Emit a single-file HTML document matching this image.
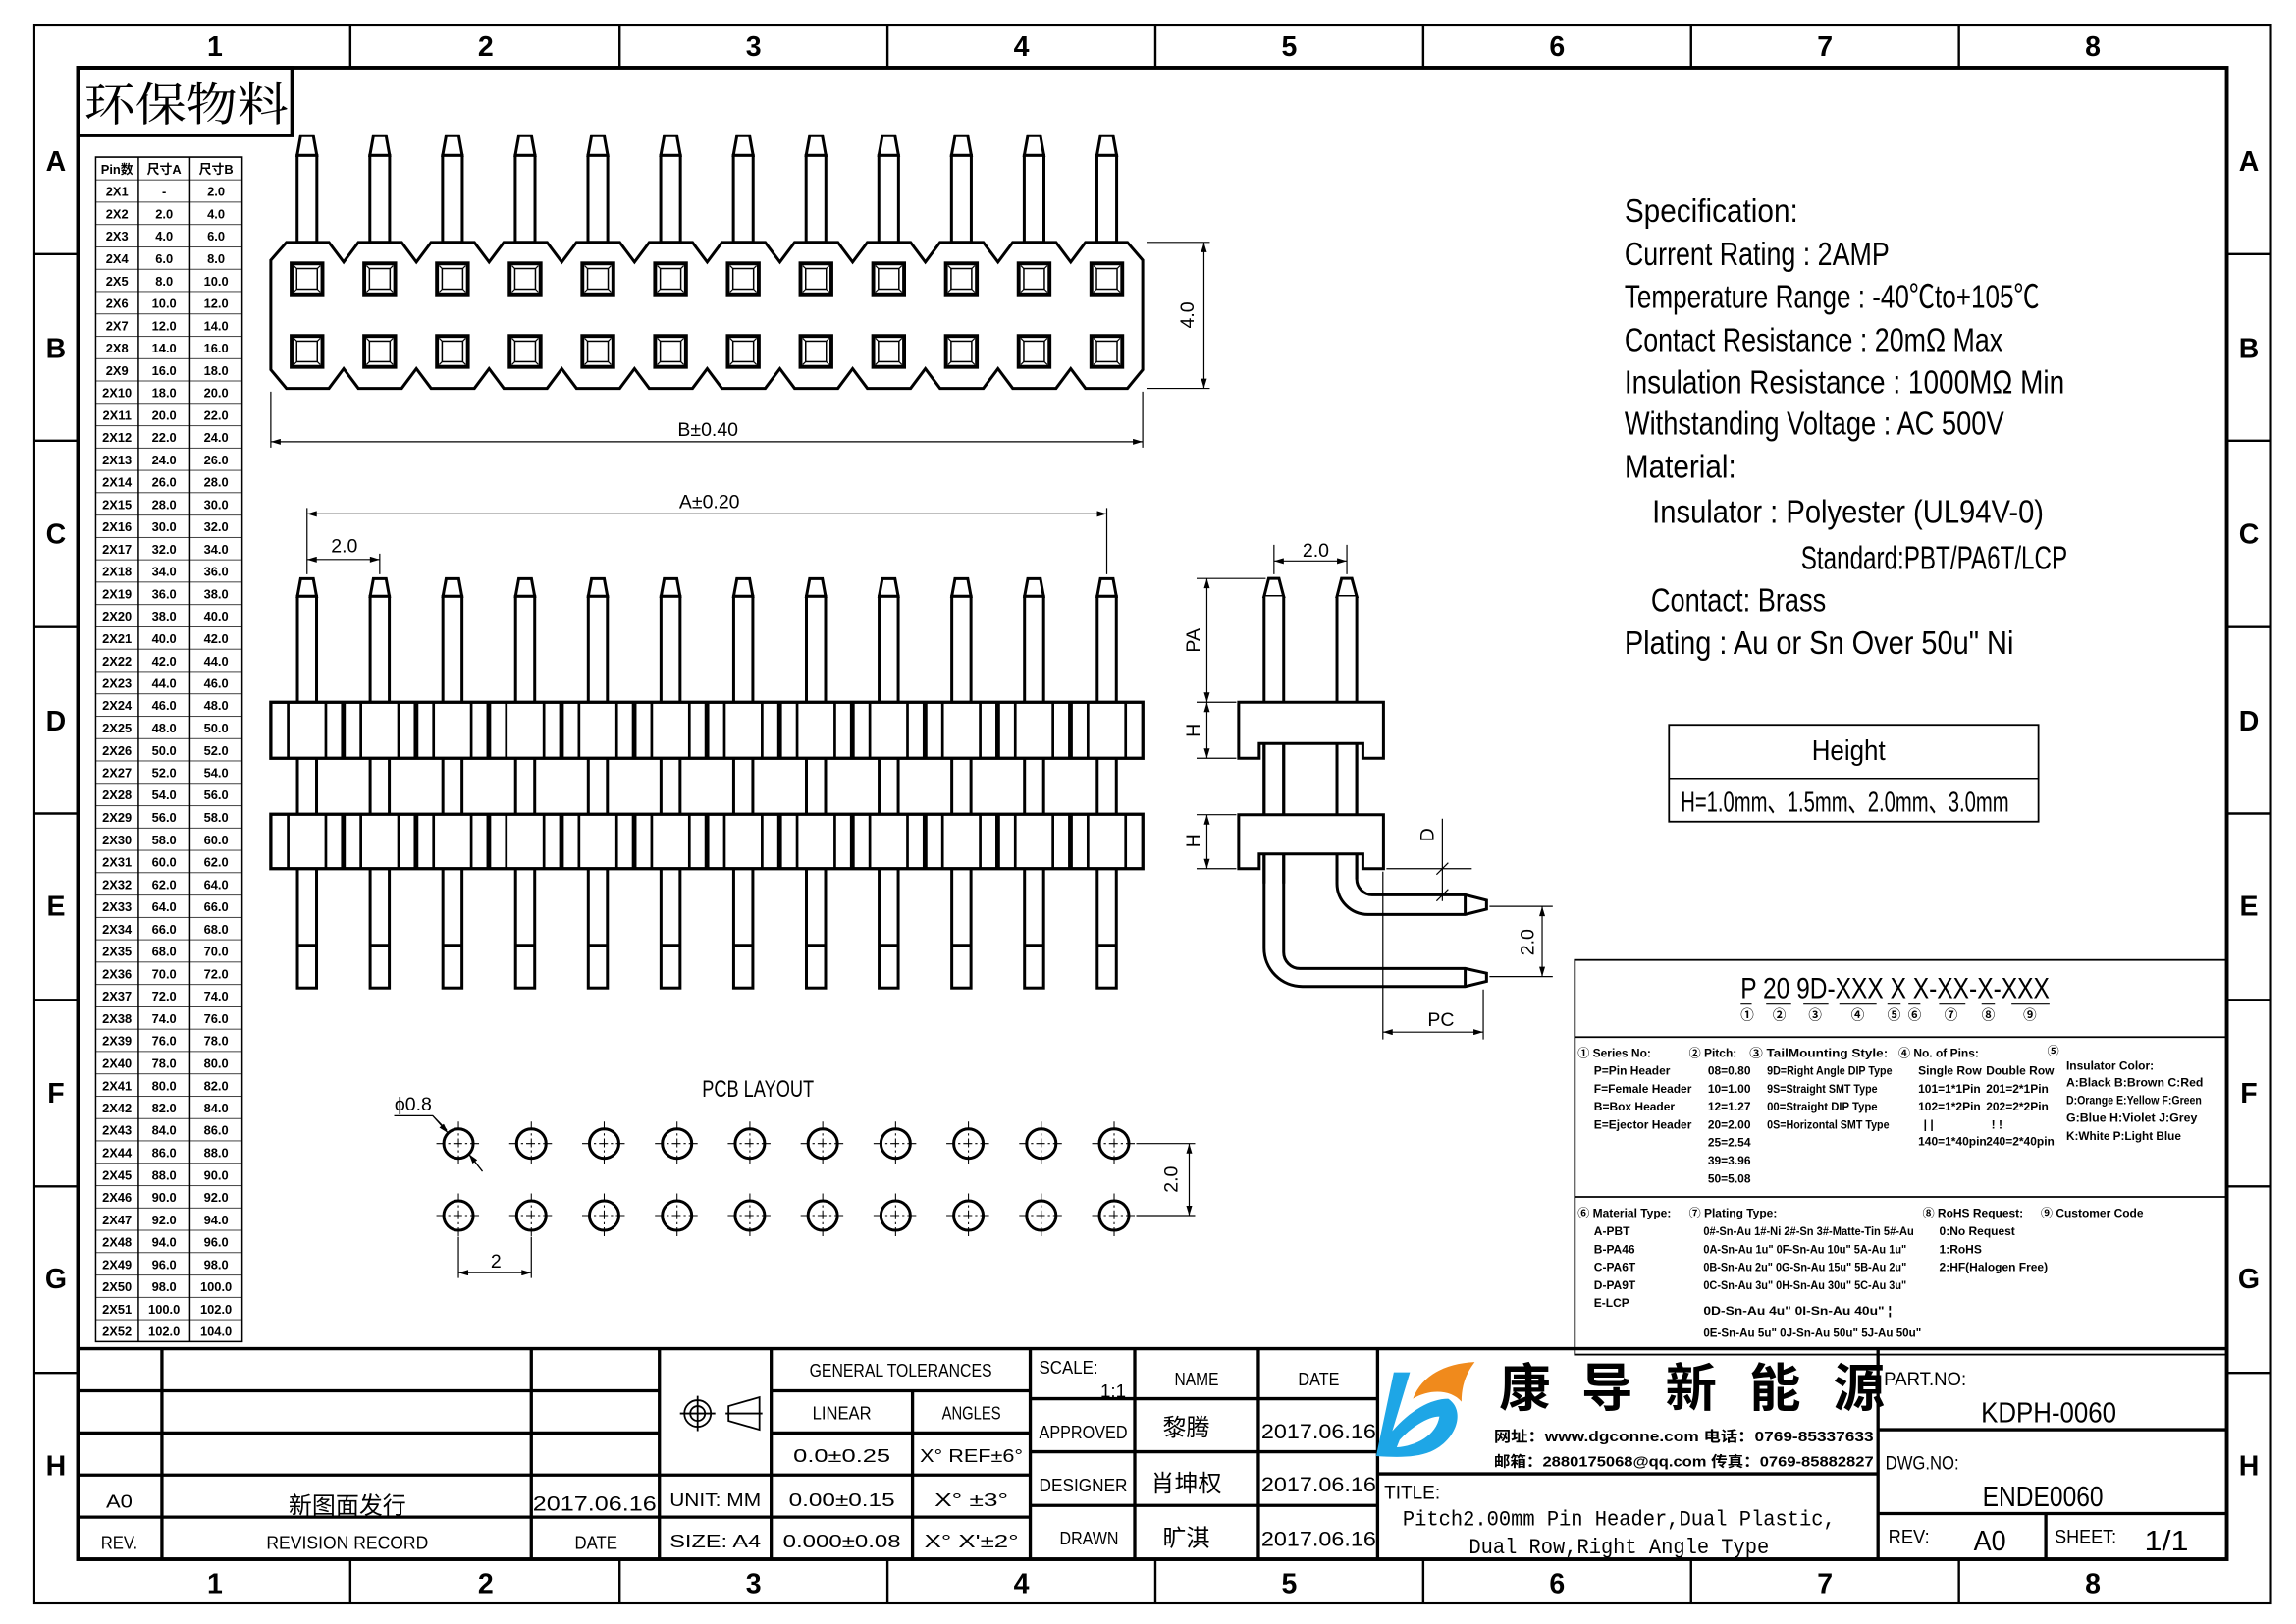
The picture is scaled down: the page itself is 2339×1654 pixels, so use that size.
<!DOCTYPE html>
<html><head><meta charset="utf-8"><style>
html,body{margin:0;padding:0;background:#fff}
svg{display:block}
text{font-family:"Liberation Sans Narrow","Liberation Sans","Noto Sans CJK SC",sans-serif;fill:#000}
.cj{font-family:"Liberation Serif","Noto Serif CJK SC",serif}
.b{font-weight:bold}
.hd{font-family:"Liberation Sans",sans-serif;font-weight:bold;font-size:19px}
.tb{font-size:8.6px;font-weight:bold;text-anchor:middle}
.sp{font-size:22px}
.sm{font-size:8px;font-weight:bold}
.t{font-size:12.5px;text-anchor:middle}
</style></head><body>
<svg width="2339" height="1654" viewBox="0 0 1560 1103" preserveAspectRatio="none" xmlns="http://www.w3.org/2000/svg">
<defs>
<marker id="ar" viewBox="0 0 10 6" refX="10" refY="3" markerWidth="7" markerHeight="4" orient="auto-start-reverse" markerUnits="userSpaceOnUse"><path d="M0,0 L10,3 L0,6 Z" fill="#000"/></marker>
<pattern id="rows" x="0" y="106.7" width="200" height="15.18" patternUnits="userSpaceOnUse"><line x1="0" y1="0" x2="200" y2="0" stroke="#000" stroke-width="1"/></pattern>
<g id="tp" fill="#fff" stroke="#000">
<path d="M-4.3,92.2 L4.3,92.2 L6.7,105.6 L-6.7,105.6 Z" stroke-width="2"/>
<rect x="-6.7" y="105.6" width="13.4" height="59" stroke-width="2"/>
</g>
<g id="sq" fill="none" stroke="#000">
<rect x="-10.5" y="178.9" width="21" height="21" stroke-width="2.6"/>
<rect x="-7" y="182.4" width="14" height="14" stroke-width="1"/>
<path d="M-9,180.4 L-7,182.4 M9,180.4 L7,182.4 M-9,198.4 L-7,196.4 M9,198.4 L7,196.4" stroke-width="0.8"/>
<rect x="-10.5" y="228.2" width="21" height="21" stroke-width="2.6"/>
<rect x="-7" y="231.7" width="14" height="14" stroke-width="1"/>
<path d="M-9,229.7 L-7,231.7 M9,229.7 L7,231.7 M-9,247.7 L-7,245.7 M9,247.7 L7,245.7" stroke-width="0.8"/>
</g>
<g id="fp" fill="#fff" stroke="#000" stroke-width="2">
<path d="M-4.3,393 L4.3,393 L6.5,405 L-6.5,405 Z"/>
<rect x="-6.5" y="405" width="13" height="266"/>
<line x1="-6.5" y1="642" x2="6.5" y2="642"/>
</g>
<g id="fl" stroke="#000">
<path d="M-12.8,477 V515 M12.8,477 V515 M-12.8,553 V590 M12.8,553 V590" stroke-width="1.8"/>
</g>
<g id="ft" stroke="#000"><path d="M24.7,477 V515 M24.7,553 V590" stroke-width="3.2"/></g>
<g id="hole" fill="none" stroke="#000">
<circle cx="0" cy="0" r="10" stroke-width="2"/>
<path d="M-15,0 H15 M0,-15 V15" stroke-width="0.7" stroke-dasharray="6,2,1.5,2"/>
</g>
</defs>
<rect width="1560" height="1103" fill="#fff"/>

<!-- frame -->
<rect x="23.3" y="16.7" width="1519.7" height="1072.3" fill="none" stroke="#000" stroke-width="1.4"/>
<rect x="53" y="46" width="1460" height="1013" fill="none" stroke="#000" stroke-width="2.6"/>
<g stroke="#000" stroke-width="1.6">
<path d="M238,16.7V46 M421,16.7V46 M603,16.7V46 M785,16.7V46 M967,16.7V46 M1149,16.7V46 M1331,16.7V46"/>
<path d="M238,1059V1089 M421,1059V1089 M603,1059V1089 M785,1059V1089 M967,1059V1089 M1149,1059V1089 M1331,1059V1089"/>
<path d="M23.3,172.6H53 M23.3,299.3H53 M23.3,425.9H53 M23.3,552.5H53 M23.3,679.1H53 M23.3,805.8H53 M23.3,932.4H53"/>
<path d="M1513,172.6H1543 M1513,299.3H1543 M1513,425.9H1543 M1513,552.5H1543 M1513,679.1H1543 M1513,805.8H1543 M1513,932.4H1543"/>
</g>
<g class="hd" text-anchor="middle">
<text x="146" y="38">1</text><text x="330" y="38">2</text><text x="512" y="38">3</text><text x="694" y="38">4</text><text x="876" y="38">5</text><text x="1058" y="38">6</text><text x="1240" y="38">7</text><text x="1422" y="38">8</text>
<text x="146" y="1082">1</text><text x="330" y="1082">2</text><text x="512" y="1082">3</text><text x="694" y="1082">4</text><text x="876" y="1082">5</text><text x="1058" y="1082">6</text><text x="1240" y="1082">7</text><text x="1422" y="1082">8</text>
<text x="38" y="116">A</text><text x="38" y="243">B</text><text x="38" y="369">C</text><text x="38" y="496">D</text><text x="38" y="622">E</text><text x="38" y="749">F</text><text x="38" y="875">G</text><text x="38" y="1002">H</text>
<text x="1528" y="116">A</text><text x="1528" y="243">B</text><text x="1528" y="369">C</text><text x="1528" y="496">D</text><text x="1528" y="622">E</text><text x="1528" y="749">F</text><text x="1528" y="875">G</text><text x="1528" y="1002">H</text>
</g>

<!-- 环保物料 -->
<rect x="53" y="46" width="145.5" height="46" fill="none" stroke="#000" stroke-width="2.6"/>
<text x="57" y="82" class="cj" font-size="31" textLength="139" lengthAdjust="spacingAndGlyphs">环保物料</text>

<!-- table -->
<rect x="65" y="106.7" width="99.5" height="804.5" fill="url(#rows)"/>
<rect x="65" y="106.7" width="99.5" height="804.5" fill="none" stroke="#000" stroke-width="1"/>
<path d="M94,106.7V911.2 M129,106.7V911.2" stroke="#000" stroke-width="1"/>
<text class="tb" x="79.5" y="118" font-size="8">Pin数</text><text class="tb" x="111.5" y="118" font-size="8">尺寸A</text><text class="tb" x="146.8" y="118" font-size="8">尺寸B</text>
<text class="tb">
<tspan x="79.5" y="133.2">2X1</tspan><tspan x="79.5" y="148.4">2X2</tspan><tspan x="79.5" y="163.5">2X3</tspan><tspan x="79.5" y="178.7">2X4</tspan><tspan x="79.5" y="193.9">2X5</tspan><tspan x="79.5" y="209.1">2X6</tspan><tspan x="79.5" y="224.3">2X7</tspan><tspan x="79.5" y="239.4">2X8</tspan><tspan x="79.5" y="254.6">2X9</tspan><tspan x="79.5" y="269.8">2X10</tspan><tspan x="79.5" y="285">2X11</tspan><tspan x="79.5" y="300.2">2X12</tspan><tspan x="79.5" y="315.3">2X13</tspan><tspan x="79.5" y="330.5">2X14</tspan><tspan x="79.5" y="345.7">2X15</tspan><tspan x="79.5" y="360.9">2X16</tspan><tspan x="79.5" y="376.1">2X17</tspan><tspan x="79.5" y="391.2">2X18</tspan><tspan x="79.5" y="406.4">2X19</tspan><tspan x="79.5" y="421.6">2X20</tspan><tspan x="79.5" y="436.8">2X21</tspan><tspan x="79.5" y="452">2X22</tspan><tspan x="79.5" y="467.1">2X23</tspan><tspan x="79.5" y="482.3">2X24</tspan><tspan x="79.5" y="497.5">2X25</tspan><tspan x="79.5" y="512.7">2X26</tspan><tspan x="79.5" y="527.9">2X27</tspan><tspan x="79.5" y="543">2X28</tspan><tspan x="79.5" y="558.2">2X29</tspan><tspan x="79.5" y="573.4">2X30</tspan><tspan x="79.5" y="588.6">2X31</tspan><tspan x="79.5" y="603.8">2X32</tspan><tspan x="79.5" y="618.9">2X33</tspan><tspan x="79.5" y="634.1">2X34</tspan><tspan x="79.5" y="649.3">2X35</tspan><tspan x="79.5" y="664.5">2X36</tspan><tspan x="79.5" y="679.7">2X37</tspan><tspan x="79.5" y="694.8">2X38</tspan><tspan x="79.5" y="710">2X39</tspan><tspan x="79.5" y="725.2">2X40</tspan><tspan x="79.5" y="740.4">2X41</tspan><tspan x="79.5" y="755.6">2X42</tspan><tspan x="79.5" y="770.7">2X43</tspan><tspan x="79.5" y="785.9">2X44</tspan><tspan x="79.5" y="801.1">2X45</tspan><tspan x="79.5" y="816.3">2X46</tspan><tspan x="79.5" y="831.5">2X47</tspan><tspan x="79.5" y="846.6">2X48</tspan><tspan x="79.5" y="861.8">2X49</tspan><tspan x="79.5" y="877">2X50</tspan><tspan x="79.5" y="892.2">2X51</tspan><tspan x="79.5" y="907.4">2X52</tspan>
</text>
<text class="tb">
<tspan x="111.5" y="133.2">-</tspan><tspan x="111.5" y="148.4">2.0</tspan><tspan x="111.5" y="163.5">4.0</tspan><tspan x="111.5" y="178.7">6.0</tspan><tspan x="111.5" y="193.9">8.0</tspan><tspan x="111.5" y="209.1">10.0</tspan><tspan x="111.5" y="224.3">12.0</tspan><tspan x="111.5" y="239.4">14.0</tspan><tspan x="111.5" y="254.6">16.0</tspan><tspan x="111.5" y="269.8">18.0</tspan><tspan x="111.5" y="285">20.0</tspan><tspan x="111.5" y="300.2">22.0</tspan><tspan x="111.5" y="315.3">24.0</tspan><tspan x="111.5" y="330.5">26.0</tspan><tspan x="111.5" y="345.7">28.0</tspan><tspan x="111.5" y="360.9">30.0</tspan><tspan x="111.5" y="376.1">32.0</tspan><tspan x="111.5" y="391.2">34.0</tspan><tspan x="111.5" y="406.4">36.0</tspan><tspan x="111.5" y="421.6">38.0</tspan><tspan x="111.5" y="436.8">40.0</tspan><tspan x="111.5" y="452">42.0</tspan><tspan x="111.5" y="467.1">44.0</tspan><tspan x="111.5" y="482.3">46.0</tspan><tspan x="111.5" y="497.5">48.0</tspan><tspan x="111.5" y="512.7">50.0</tspan><tspan x="111.5" y="527.9">52.0</tspan><tspan x="111.5" y="543">54.0</tspan><tspan x="111.5" y="558.2">56.0</tspan><tspan x="111.5" y="573.4">58.0</tspan><tspan x="111.5" y="588.6">60.0</tspan><tspan x="111.5" y="603.8">62.0</tspan><tspan x="111.5" y="618.9">64.0</tspan><tspan x="111.5" y="634.1">66.0</tspan><tspan x="111.5" y="649.3">68.0</tspan><tspan x="111.5" y="664.5">70.0</tspan><tspan x="111.5" y="679.7">72.0</tspan><tspan x="111.5" y="694.8">74.0</tspan><tspan x="111.5" y="710">76.0</tspan><tspan x="111.5" y="725.2">78.0</tspan><tspan x="111.5" y="740.4">80.0</tspan><tspan x="111.5" y="755.6">82.0</tspan><tspan x="111.5" y="770.7">84.0</tspan><tspan x="111.5" y="785.9">86.0</tspan><tspan x="111.5" y="801.1">88.0</tspan><tspan x="111.5" y="816.3">90.0</tspan><tspan x="111.5" y="831.5">92.0</tspan><tspan x="111.5" y="846.6">94.0</tspan><tspan x="111.5" y="861.8">96.0</tspan><tspan x="111.5" y="877">98.0</tspan><tspan x="111.5" y="892.2">100.0</tspan><tspan x="111.5" y="907.4">102.0</tspan>
</text>
<text class="tb">
<tspan x="146.8" y="133.2">2.0</tspan><tspan x="146.8" y="148.4">4.0</tspan><tspan x="146.8" y="163.5">6.0</tspan><tspan x="146.8" y="178.7">8.0</tspan><tspan x="146.8" y="193.9">10.0</tspan><tspan x="146.8" y="209.1">12.0</tspan><tspan x="146.8" y="224.3">14.0</tspan><tspan x="146.8" y="239.4">16.0</tspan><tspan x="146.8" y="254.6">18.0</tspan><tspan x="146.8" y="269.8">20.0</tspan><tspan x="146.8" y="285">22.0</tspan><tspan x="146.8" y="300.2">24.0</tspan><tspan x="146.8" y="315.3">26.0</tspan><tspan x="146.8" y="330.5">28.0</tspan><tspan x="146.8" y="345.7">30.0</tspan><tspan x="146.8" y="360.9">32.0</tspan><tspan x="146.8" y="376.1">34.0</tspan><tspan x="146.8" y="391.2">36.0</tspan><tspan x="146.8" y="406.4">38.0</tspan><tspan x="146.8" y="421.6">40.0</tspan><tspan x="146.8" y="436.8">42.0</tspan><tspan x="146.8" y="452">44.0</tspan><tspan x="146.8" y="467.1">46.0</tspan><tspan x="146.8" y="482.3">48.0</tspan><tspan x="146.8" y="497.5">50.0</tspan><tspan x="146.8" y="512.7">52.0</tspan><tspan x="146.8" y="527.9">54.0</tspan><tspan x="146.8" y="543">56.0</tspan><tspan x="146.8" y="558.2">58.0</tspan><tspan x="146.8" y="573.4">60.0</tspan><tspan x="146.8" y="588.6">62.0</tspan><tspan x="146.8" y="603.8">64.0</tspan><tspan x="146.8" y="618.9">66.0</tspan><tspan x="146.8" y="634.1">68.0</tspan><tspan x="146.8" y="649.3">70.0</tspan><tspan x="146.8" y="664.5">72.0</tspan><tspan x="146.8" y="679.7">74.0</tspan><tspan x="146.8" y="694.8">76.0</tspan><tspan x="146.8" y="710">78.0</tspan><tspan x="146.8" y="725.2">80.0</tspan><tspan x="146.8" y="740.4">82.0</tspan><tspan x="146.8" y="755.6">84.0</tspan><tspan x="146.8" y="770.7">86.0</tspan><tspan x="146.8" y="785.9">88.0</tspan><tspan x="146.8" y="801.1">90.0</tspan><tspan x="146.8" y="816.3">92.0</tspan><tspan x="146.8" y="831.5">94.0</tspan><tspan x="146.8" y="846.6">96.0</tspan><tspan x="146.8" y="861.8">98.0</tspan><tspan x="146.8" y="877">100.0</tspan><tspan x="146.8" y="892.2">102.0</tspan><tspan x="146.8" y="907.4">104.0</tspan>
</text>

<!-- top view -->
<use href="#tp" x="208.6"/><use href="#tp" x="258"/><use href="#tp" x="307.4"/><use href="#tp" x="356.8"/><use href="#tp" x="406.2"/><use href="#tp" x="455.6"/><use href="#tp" x="505"/><use href="#tp" x="554.4"/><use href="#tp" x="603.8"/><use href="#tp" x="653.2"/><use href="#tp" x="702.6"/><use href="#tp" x="752"/>
<path fill="#fff" stroke="#000" stroke-width="2" stroke-linejoin="miter" d="M184,176.7 L194.6,164.6 L223.5,164.6 L233.5,178 L243.5,164.6 L272.9,164.6 L282.9,178 L292.9,164.6 L322.3,164.6 L332.3,178 L342.3,164.6 L371.7,164.6 L381.7,178 L391.7,164.6 L421.1,164.6 L431.1,178 L441.1,164.6 L470.5,164.6 L480.5,178 L490.5,164.6 L519.9,164.6 L529.9,178 L539.9,164.6 L569.3,164.6 L579.3,178 L589.3,164.6 L618.7,164.6 L628.7,178 L638.7,164.6 L668.1,164.6 L678.1,178 L688.1,164.6 L717.5,164.6 L727.5,178 L737.5,164.6 L766,164.6 L776.4,176.7 L776.4,251.1 L766,263.8 L737.5,263.8 L727.5,250.4 L717.5,263.8 L688.1,263.8 L678.1,250.4 L668.1,263.8 L638.7,263.8 L628.7,250.4 L618.7,263.8 L589.3,263.8 L579.3,250.4 L569.3,263.8 L539.9,263.8 L529.9,250.4 L519.9,263.8 L490.5,263.8 L480.5,250.4 L470.5,263.8 L441.1,263.8 L431.1,250.4 L421.1,263.8 L391.7,263.8 L381.7,250.4 L371.7,263.8 L342.3,263.8 L332.3,250.4 L322.3,263.8 L292.9,263.8 L282.9,250.4 L272.9,263.8 L243.5,263.8 L233.5,250.4 L223.5,263.8 L194.6,263.8 L184,251.1 Z"/>
<use href="#sq" x="208.6"/><use href="#sq" x="258"/><use href="#sq" x="307.4"/><use href="#sq" x="356.8"/><use href="#sq" x="406.2"/><use href="#sq" x="455.6"/><use href="#sq" x="505"/><use href="#sq" x="554.4"/><use href="#sq" x="603.8"/><use href="#sq" x="653.2"/><use href="#sq" x="702.6"/><use href="#sq" x="752"/>
<g stroke="#000" stroke-width="0.8" fill="none">
<path d="M779,164.6H822 M779,263.8H822 M184,266V304 M776.4,266V304"/>
<line x1="818" y1="164.6" x2="818" y2="263.8" marker-start="url(#ar)" marker-end="url(#ar)"/>
<line x1="184" y1="300" x2="776.4" y2="300" marker-start="url(#ar)" marker-end="url(#ar)"/>
</g>
<text x="811" y="214" font-size="13" text-anchor="middle" transform="rotate(-90 811 214)">4.0</text>
<text x="481" y="296" font-size="13" text-anchor="middle">B±0.40</text>

<!-- front view -->
<g stroke="#000" stroke-width="0.8" fill="none">
<path d="M208.6,345V390 M752,345V390 M258,376V390"/>
<line x1="208.6" y1="349" x2="752" y2="349" marker-start="url(#ar)" marker-end="url(#ar)"/>
<line x1="208.6" y1="380" x2="258" y2="380" marker-start="url(#ar)" marker-end="url(#ar)"/>
</g>
<text x="482" y="345" font-size="13" text-anchor="middle">A±0.20</text>
<text x="234" y="375" font-size="13" text-anchor="middle">2.0</text>
<use href="#fp" x="208.6"/><use href="#fp" x="258"/><use href="#fp" x="307.4"/><use href="#fp" x="356.8"/><use href="#fp" x="406.2"/><use href="#fp" x="455.6"/><use href="#fp" x="505"/><use href="#fp" x="554.4"/><use href="#fp" x="603.8"/><use href="#fp" x="653.2"/><use href="#fp" x="702.6"/><use href="#fp" x="752"/>
<rect x="184" y="477" width="592.5" height="38" fill="#fff" stroke="#000" stroke-width="2.2"/>
<rect x="184" y="553" width="592.5" height="37" fill="#fff" stroke="#000" stroke-width="2.2"/>
<use href="#fl" x="208.6"/><use href="#fl" x="258"/><use href="#fl" x="307.4"/><use href="#fl" x="356.8"/><use href="#fl" x="406.2"/><use href="#fl" x="455.6"/><use href="#fl" x="505"/><use href="#fl" x="554.4"/><use href="#fl" x="603.8"/><use href="#fl" x="653.2"/><use href="#fl" x="702.6"/><use href="#fl" x="752"/>
<use href="#ft" x="208.6"/><use href="#ft" x="258"/><use href="#ft" x="307.4"/><use href="#ft" x="356.8"/><use href="#ft" x="406.2"/><use href="#ft" x="455.6"/><use href="#ft" x="505"/><use href="#ft" x="554.4"/><use href="#ft" x="603.8"/><use href="#ft" x="653.2"/><use href="#ft" x="702.6"/>

<!-- side view -->
<g fill="#fff" stroke="#000" stroke-width="2">
<path d="M862,392.9 L869,392.9 L872.2,405.1 L858.9,405.1 Z"/>
<path d="M911.5,392.9 L918.5,392.9 L921.8,405.1 L908.4,405.1 Z"/>
<path d="M858.9,405.1 L858.9,644 A26,26 0 0 0 884.9,670 L995.5,670 L1010,666.5 L1010,661 L995.5,657.8 L883.2,657.8 A11,11 0 0 1 872.2,646.8 L872.2,405.1"/>
<path d="M908.4,405.1 L908.4,600 A21,21 0 0 0 929.4,621.1 L995.5,621.1 L1010,617.5 L1010,611.5 L995.5,607.8 L932.6,607.8 A10.8,10.8 0 0 1 921.8,597 L921.8,405.1"/>
<path d="M995.5,657.8V670 M995.5,607.8V621.1" fill="none"/>
<path d="M841.6,477 L940,477 L940,515 L926,515 L926,505 L855.6,505 L855.6,515 L841.6,515 Z"/>
<path d="M841.6,553.3 L940,553.3 L940,590 L926,590 L926,580 L855.6,580 L855.6,590 L841.6,590 Z"/>
<path d="M858.9,505V553.3 M872.2,505V553.3 M908.4,505V553.3 M921.8,505V553.3 M858.9,580V600 M872.2,580V600 M908.4,580V598 M921.8,580V597" fill="none"/>
</g>
<g stroke="#000" stroke-width="0.8" fill="none">
<path d="M813,392.9H860 M813,477H840 M813,515H840 M813,553.3H840 M813,590H840"/>
<line x1="820" y1="392.9" x2="820" y2="477" marker-start="url(#ar)" marker-end="url(#ar)"/>
<line x1="820" y1="477" x2="820" y2="515" marker-start="url(#ar)" marker-end="url(#ar)"/>
<line x1="820" y1="553.3" x2="820" y2="590" marker-start="url(#ar)" marker-end="url(#ar)"/>
<path d="M865.6,370V390 M915.1,370V390"/>
<line x1="865.6" y1="381" x2="915.1" y2="381" marker-start="url(#ar)" marker-end="url(#ar)"/>
<path d="M942,590H1000 M980,556V612 M976,594L984,586 M976,612L984,604"/>
<path d="M1012,615.6H1055 M1012,663.3H1055 M939.6,592V706 M1007.8,672V706"/>
<line x1="1047.8" y1="615.6" x2="1047.8" y2="663.3" marker-start="url(#ar)" marker-end="url(#ar)"/>
<line x1="939.6" y1="701" x2="1007.8" y2="701" marker-start="url(#ar)" marker-end="url(#ar)"/>
</g>
<text x="815" y="435" font-size="13" text-anchor="middle" transform="rotate(-90 815 435)">PA</text>
<text x="815" y="496" font-size="13" text-anchor="middle" transform="rotate(-90 815 496)">H</text>
<text x="815" y="571" font-size="13" text-anchor="middle" transform="rotate(-90 815 571)">H</text>
<text x="894" y="378" font-size="13" text-anchor="middle">2.0</text>
<text x="974" y="567" font-size="13" text-anchor="middle" transform="rotate(-90 974 567)">D</text>
<text x="1042" y="640" font-size="13" text-anchor="middle" transform="rotate(-90 1042 640)">2.0</text>
<text x="979" y="697" font-size="13" text-anchor="middle">PC</text>

<!-- PCB layout -->
<text x="515" y="745" font-size="16" text-anchor="middle" textLength="76" lengthAdjust="spacingAndGlyphs">PCB LAYOUT</text>
<g>
<use href="#hole" x="311.5" y="776.7"/><use href="#hole" x="361" y="776.7"/><use href="#hole" x="410.5" y="776.7"/><use href="#hole" x="460" y="776.7"/><use href="#hole" x="509.5" y="776.7"/><use href="#hole" x="559" y="776.7"/><use href="#hole" x="608.5" y="776.7"/><use href="#hole" x="658" y="776.7"/><use href="#hole" x="707.5" y="776.7"/><use href="#hole" x="757" y="776.7"/>
<use href="#hole" x="311.5" y="825.6"/><use href="#hole" x="361" y="825.6"/><use href="#hole" x="410.5" y="825.6"/><use href="#hole" x="460" y="825.6"/><use href="#hole" x="509.5" y="825.6"/><use href="#hole" x="559" y="825.6"/><use href="#hole" x="608.5" y="825.6"/><use href="#hole" x="658" y="825.6"/><use href="#hole" x="707.5" y="825.6"/><use href="#hole" x="757" y="825.6"/>
</g>
<g stroke="#000" stroke-width="0.8" fill="none">
<path d="M267.8,757.8H294 L303.5,767.5 M318.5,783.8 L327.8,795.6"/>
<path d="M294,757.8 L304.4,769.6" marker-end="url(#ar)"/>
<path d="M327.8,795.6 L318.6,783.8" marker-end="url(#ar)"/>
<path d="M311.5,840V868 M361,840V868 M772,776.7H812 M772,825.6H812"/>
<line x1="311.5" y1="864.4" x2="361" y2="864.4" marker-start="url(#ar)" marker-end="url(#ar)"/>
<line x1="808" y1="776.7" x2="808" y2="825.6" marker-start="url(#ar)" marker-end="url(#ar)"/>
</g>
<text x="268" y="754.4" font-size="13">ϕ0.8</text>
<text x="337" y="861" font-size="13" text-anchor="middle">2</text>
<text x="800" y="801" font-size="13" text-anchor="middle" transform="rotate(-90 800 801)">2.0</text>

<!-- specification -->
<g class="sp">
<text x="1103.7" y="150.7" textLength="118" lengthAdjust="spacingAndGlyphs">Specification:</text>
<text x="1103.7" y="179.9" textLength="180" lengthAdjust="spacingAndGlyphs">Current Rating : 2AMP</text>
<text x="1103.7" y="209.1" textLength="282" lengthAdjust="spacingAndGlyphs">Temperature Range : -40℃to+105℃</text>
<text x="1103.7" y="238.3" textLength="257" lengthAdjust="spacingAndGlyphs">Contact Resistance : 20mΩ Max</text>
<text x="1103.7" y="267" textLength="299" lengthAdjust="spacingAndGlyphs">Insulation Resistance : 1000MΩ Min</text>
<text x="1103.7" y="295.2" textLength="258" lengthAdjust="spacingAndGlyphs">Withstanding Voltage : AC 500V</text>
<text x="1103.7" y="324.4" textLength="76" lengthAdjust="spacingAndGlyphs">Material:</text>
<text x="1122.6" y="355" textLength="266" lengthAdjust="spacingAndGlyphs">Insulator : Polyester (UL94V-0)</text>
<text x="1223.7" y="386.3" textLength="181" lengthAdjust="spacingAndGlyphs">Standard:PBT/PA6T/LCP</text>
<text x="1121.7" y="415" textLength="119" lengthAdjust="spacingAndGlyphs">Contact: Brass</text>
<text x="1103.7" y="444.1" textLength="264.5" lengthAdjust="spacingAndGlyphs">Plating : Au or Sn Over 50u" Ni</text>
</g>
<rect x="1134" y="492.3" width="251" height="65.7" fill="none" stroke="#000" stroke-width="1.2"/>
<line x1="1134" y1="528.7" x2="1385" y2="528.7" stroke="#000" stroke-width="1"/>
<text x="1256" y="516" font-size="19" text-anchor="middle" textLength="50" lengthAdjust="spacingAndGlyphs">Height</text>
<text x="1142" y="551.3" font-size="19" textLength="223" lengthAdjust="spacingAndGlyphs">H=1.0mm、1.5mm、2.0mm、3.0mm</text>

<!-- ordering code -->
<rect x="1070" y="652" width="443" height="268" fill="none" stroke="#000" stroke-width="1.2"/>
<path d="M1070,704.4H1513 M1070,812.9H1513" stroke="#000" stroke-width="1.2"/>
<text x="1182.7" y="677.8" font-size="20" textLength="209.8" lengthAdjust="spacingAndGlyphs" xml:space="preserve">P 20 9D-XXX X X-XX-X-XXX</text>
<path stroke="#000" stroke-width="0.8" d="M1182.7,682H1190.2 M1200,682H1217 M1225.3,682H1242.3 M1249.7,682H1275 M1282.4,682H1291.4 M1296.7,682H1304.8 M1317.5,682H1335.4 M1346.4,682H1355.4 M1366.7,682H1392.5"/>
<g font-size="9" text-anchor="middle" class="b">
<text x="1187.2" y="692.5">①</text><text x="1208.9" y="692.5">②</text><text x="1233.3" y="692.5">③</text><text x="1262.2" y="692.5">④</text><text x="1286.9" y="692.5">⑤</text><text x="1300.9" y="692.5">⑥</text><text x="1325.6" y="692.5">⑦</text><text x="1350.9" y="692.5">⑧</text><text x="1379.2" y="692.5">⑨</text>
</g>
<g class="sm">
<text x="1072" y="717.8">① Series No:</text>
<text x="1083" y="730">P=Pin Header</text><text x="1083" y="742.2">F=Female Header</text><text x="1083" y="754.4">B=Box Header</text><text x="1083" y="766.6">E=Ejector Header</text>
<text x="1147.6" y="717.8">② Pitch:</text>
<text x="1160.4" y="730">08=0.80</text><text x="1160.4" y="742.2">10=1.00</text><text x="1160.4" y="754.4">12=1.27</text><text x="1160.4" y="766.6">20=2.00</text><text x="1160.4" y="778.5">25=2.54</text><text x="1160.4" y="791">39=3.96</text><text x="1160.4" y="803.3">50=5.08</text>
<text x="1188.7" y="717.8" textLength="94" lengthAdjust="spacingAndGlyphs">③ TailMounting Style:</text>
<text x="1200.6" y="730" textLength="85" lengthAdjust="spacingAndGlyphs">9D=Right Angle DIP Type</text>
<text x="1200.6" y="742.2" textLength="75" lengthAdjust="spacingAndGlyphs">9S=Straight SMT Type</text>
<text x="1200.6" y="754.4" textLength="75" lengthAdjust="spacingAndGlyphs">00=Straight DIP Type</text>
<text x="1200.6" y="766.6" textLength="83" lengthAdjust="spacingAndGlyphs">0S=Horizontal SMT Type</text>
<text x="1289.9" y="717.8">④ No. of Pins:</text>
<text x="1303.3" y="730">Single Row</text><text x="1349.4" y="730">Double Row</text>
<text x="1303.3" y="742.2">101=1*1Pin</text><text x="1349.4" y="742.2">201=2*1Pin</text>
<text x="1303.3" y="754.4">102=1*2Pin</text><text x="1349.4" y="754.4">202=2*2Pin</text>
<text x="1307" y="766.6">|   |</text><text x="1353" y="766.6">!   !</text>
<text x="1303.3" y="778">140=1*40pin</text><text x="1349.4" y="778">240=2*40pin</text>
<text x="1391" y="716.5">⑤</text>
<text x="1403.9" y="726.7">Insulator Color:</text>
<text x="1403.9" y="737.8" textLength="93" lengthAdjust="spacingAndGlyphs">A:Black  B:Brown  C:Red</text>
<text x="1403.9" y="749.9" textLength="92" lengthAdjust="spacingAndGlyphs">D:Orange E:Yellow F:Green</text>
<text x="1403.9" y="762" textLength="89" lengthAdjust="spacingAndGlyphs">G:Blue   H:Violet J:Grey</text>
<text x="1403.9" y="774.2" textLength="78" lengthAdjust="spacingAndGlyphs">K:White  P:Light Blue</text>
<text x="1072" y="826.7">⑥ Material Type:</text>
<text x="1083" y="838.9">A-PBT</text><text x="1083" y="851.1">B-PA46</text><text x="1083" y="863.3">C-PA6T</text><text x="1083" y="875.5">D-PA9T</text><text x="1083" y="887.7">E-LCP</text>
<text x="1147.6" y="826.7">⑦ Plating Type:</text>
<text x="1157.4" y="838.9" textLength="143" lengthAdjust="spacingAndGlyphs">0#-Sn-Au 1#-Ni 2#-Sn 3#-Matte-Tin 5#-Au</text>
<text x="1157.4" y="851.1" textLength="138" lengthAdjust="spacingAndGlyphs">0A-Sn-Au 1u" 0F-Sn-Au 10u"  5A-Au 1u"</text>
<text x="1157.4" y="863.3" textLength="138" lengthAdjust="spacingAndGlyphs">0B-Sn-Au 2u" 0G-Sn-Au 15u"  5B-Au 2u"</text>
<text x="1157.4" y="875.5" textLength="138" lengthAdjust="spacingAndGlyphs">0C-Sn-Au 3u" 0H-Sn-Au 30u"  5C-Au 3u"</text>
<text x="1157.4" y="893" textLength="128" lengthAdjust="spacingAndGlyphs">0D-Sn-Au 4u" 0I-Sn-Au 40u"       ¦</text>
<text x="1157.4" y="908" textLength="148" lengthAdjust="spacingAndGlyphs">0E-Sn-Au 5u" 0J-Sn-Au 50u"  5J-Au 50u"</text>
<text x="1306.3" y="826.7">⑧ RoHS Request:</text>
<text x="1317.6" y="838.9">0:No Request</text><text x="1317.6" y="851.1">1:RoHS</text><text x="1317.6" y="863.3">2:HF(Halogen Free)</text>
<text x="1386.6" y="826.7">⑨ Customer Code</text>
</g>

<!-- title block -->
<g stroke="#000" stroke-width="2.2" fill="none">
<path d="M53,916H1513"/>
<path d="M53,944.6H448 M53,973.2H448 M53,1001.8H524 M53,1030.4H700 M524,944.6H700 M524,973.2H700 M524,1001.8H700"/>
<path d="M110,916V1059 M361,916V1059 M448,916V1059 M524,916V1059 M620,944.6V1059 M700,916V1059"/>
<path d="M771,916V1059 M855,916V1059 M936,916V1059 M700,950H936 M700,986H936 M700,1022.5H936"/>
<path d="M936,1001H1276 M1276,916V1059 M1276,971H1513 M1276,1028H1513 M1390,1028V1059"/>
</g>
<g stroke="#000" stroke-width="1.2" fill="none">
<circle cx="474" cy="960" r="9"/><circle cx="474" cy="960" r="5"/>
<path d="M462,960H486 M474,948V972 M493,960H518 M495,955 L516,949 L516,971 L495,965 Z"/>
</g>
<g class="t">
<text x="612" y="935" textLength="124" lengthAdjust="spacingAndGlyphs">GENERAL TOLERANCES</text>
<text x="572" y="964" textLength="40" lengthAdjust="spacingAndGlyphs">LINEAR</text>
<text x="660" y="964" textLength="40" lengthAdjust="spacingAndGlyphs">ANGLES</text>
<text x="572" y="993" textLength="66" lengthAdjust="spacingAndGlyphs">0.0±0.25</text>
<text x="660" y="993" textLength="70" lengthAdjust="spacingAndGlyphs">X° REF±6°</text>
<text x="572" y="1023" textLength="72" lengthAdjust="spacingAndGlyphs">0.00±0.15</text>
<text x="660" y="1023" textLength="50" lengthAdjust="spacingAndGlyphs">X° ±3°</text>
<text x="572" y="1051" textLength="80" lengthAdjust="spacingAndGlyphs">0.000±0.08</text>
<text x="660" y="1051" textLength="64" lengthAdjust="spacingAndGlyphs">X° X'±2°</text>
<text x="486" y="1023" textLength="62" lengthAdjust="spacingAndGlyphs">UNIT: MM</text>
<text x="486" y="1051" textLength="62" lengthAdjust="spacingAndGlyphs">SIZE: A4</text>
<text x="81" y="1024" textLength="18" lengthAdjust="spacingAndGlyphs">A0</text>
<text x="81" y="1052" textLength="25" lengthAdjust="spacingAndGlyphs">REV.</text>
<text x="236" y="1052" textLength="110" lengthAdjust="spacingAndGlyphs">REVISION RECORD</text>
<text x="405" y="1052" textLength="29" lengthAdjust="spacingAndGlyphs">DATE</text>
<text x="404" y="1026" font-size="14" textLength="84" lengthAdjust="spacingAndGlyphs">2017.06.16</text>
<text x="813" y="941" textLength="30" lengthAdjust="spacingAndGlyphs">NAME</text>
<text x="896" y="941" textLength="28" lengthAdjust="spacingAndGlyphs">DATE</text>
<text x="736" y="977" textLength="60" lengthAdjust="spacingAndGlyphs">APPROVED</text>
<text x="736" y="1013" textLength="60" lengthAdjust="spacingAndGlyphs">DESIGNER</text>
<text x="740" y="1049" textLength="40" lengthAdjust="spacingAndGlyphs">DRAWN</text>
<text x="896" y="977" font-size="14" textLength="78" lengthAdjust="spacingAndGlyphs">2017.06.16</text>
<text x="896" y="1013" font-size="14" textLength="78" lengthAdjust="spacingAndGlyphs">2017.06.16</text>
<text x="896" y="1050" font-size="14" textLength="78" lengthAdjust="spacingAndGlyphs">2017.06.16</text>
</g>
<text x="706" y="933" font-size="12.5" textLength="40" lengthAdjust="spacingAndGlyphs">SCALE:</text>
<text x="765" y="949" font-size="12.5" text-anchor="end">1:1</text>
<g class="cj" font-size="16" text-anchor="middle">
<text x="236" y="1028">新图面发行</text>
<text x="806" y="975">黎腾</text>
<text x="806" y="1013">肖坤权</text>
<text x="806" y="1050">旷淇</text>
</g>
<!-- logo -->
<path fill="#1ea6e6" d="M947,932 L958,932 L946,972 C958,958 972,950 984,950 C996,958 990,978 972,986 C962,990 950,990 935,989 Z M949,983 C962,982 976,975 978,962 C970,962 958,970 951,978 Z" fill-rule="evenodd"/>
<path fill="#f08a1c" d="M960,950 C966,934 982,926 1002,925 C996,933 993,941 993,952 C986,944 972,943 960,950 Z"/>
<g font-family="'Noto Sans CJK SC',sans-serif" font-weight="bold" font-size="35" text-anchor="middle">
<text x="1036" y="955" style="font-family:'Noto Sans CJK SC',sans-serif">康</text>
<text x="1092" y="955" style="font-family:'Noto Sans CJK SC',sans-serif">导</text>
<text x="1149" y="955" style="font-family:'Noto Sans CJK SC',sans-serif">新</text>
<text x="1206" y="955" style="font-family:'Noto Sans CJK SC',sans-serif">能</text>
<text x="1263" y="955" style="font-family:'Noto Sans CJK SC',sans-serif">源</text>
</g>
<text x="1015" y="979" font-size="10" font-weight="bold" textLength="258" lengthAdjust="spacingAndGlyphs" style="font-family:'Liberation Sans','Noto Sans CJK SC',sans-serif">网址：www.dgconne.com    电话：0769-85337633</text>
<text x="1015" y="996" font-size="10" font-weight="bold" textLength="258" lengthAdjust="spacingAndGlyphs" style="font-family:'Liberation Sans','Noto Sans CJK SC',sans-serif">邮箱：2880175068@qq.com 传真：0769-85882827</text>
<text x="940.5" y="1018" font-size="13" textLength="38" lengthAdjust="spacingAndGlyphs">TITLE:</text>
<text x="1100" y="1036" font-size="15" text-anchor="middle" textLength="294" lengthAdjust="spacingAndGlyphs" style="font-family:'Liberation Mono',monospace">Pitch2.00mm Pin Header,Dual Plastic,</text>
<text x="1100" y="1055" font-size="15" text-anchor="middle" textLength="204" lengthAdjust="spacingAndGlyphs" style="font-family:'Liberation Mono',monospace">Dual Row,Right Angle Type</text>
<text x="1280" y="941" font-size="13" textLength="56" lengthAdjust="spacingAndGlyphs">PART.NO:</text>
<text x="1392" y="966" font-size="19" text-anchor="middle" textLength="92" lengthAdjust="spacingAndGlyphs">KDPH-0060</text>
<text x="1281" y="998" font-size="13" textLength="50" lengthAdjust="spacingAndGlyphs">DWG.NO:</text>
<text x="1388" y="1023" font-size="19" text-anchor="middle" textLength="82" lengthAdjust="spacingAndGlyphs">ENDE0060</text>
<text x="1283" y="1048" font-size="13" textLength="28" lengthAdjust="spacingAndGlyphs">REV:</text>
<text x="1352" y="1053" font-size="19" text-anchor="middle" textLength="22" lengthAdjust="spacingAndGlyphs">A0</text>
<text x="1396" y="1048" font-size="13" textLength="42" lengthAdjust="spacingAndGlyphs">SHEET:</text>
<text x="1472" y="1053" font-size="19" text-anchor="middle" textLength="30" lengthAdjust="spacingAndGlyphs">1/1</text>
</svg>
</body></html>
